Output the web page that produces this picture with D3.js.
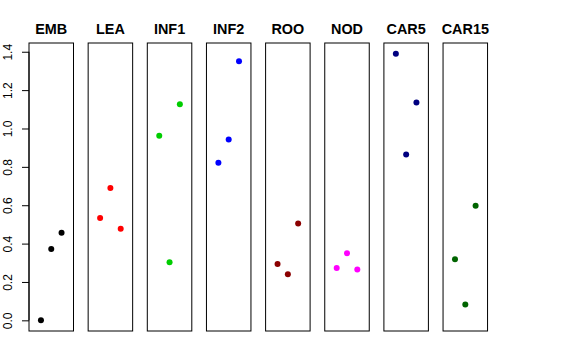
<!DOCTYPE html>
<html><head><meta charset="utf-8">
<script src="https://cdn.jsdelivr.net/npm/d3@7"></script>
<style>body{margin:0;background:#fff}svg{display:block}</style>
</head><body>
<script>
const categories = ["EMB","LEA","INF1","INF2","ROO","NOD","CAR5","CAR15"];
const colors = ["#000000","#FF0000","#00CD00","#0000FF","#8B0000","#FF00FF","#000080","#006400"];
const rep1 = [0.000, 0.534, 0.962, 0.821, 0.294, 0.273, 1.390, 0.318];
const rep2 = [0.372, 0.690, 0.303, 0.943, 0.240, 0.350, 0.865, 0.082];
const rep3 = [0.456, 0.477, 1.126, 1.350, 0.505, 0.265, 1.136, 0.597];
const yTicks = [0, 0.2, 0.4, 0.6, 0.8, 1.0, 1.2, 1.4];

const W = 576, H = 360;
const svg = d3.select("body").append("svg").attr("width", W).attr("height", H);
const plotTop = 43, plotBottom = 331;
const panelLeft = 29, panelW = 44.5, pitch = 59.15;

const y = d3.scaleLinear().domain([-0.0556, 1.4456]).range([plotBottom, plotTop]);

categories.forEach((cat, i) => {
  const x0 = panelLeft + i * pitch;
  const x = d3.scaleLinear().domain([-0.16, 4.16]).range([x0, x0 + panelW]);
  const g = svg.append("g");
  const vals = [rep1[i], rep2[i], rep3[i]];
  g.selectAll("circle").data(vals).enter().append("circle")
    .attr("cx", (d, j) => x(j + 1))
    .attr("cy", d => y(d))
    .attr("r", 3)
    .attr("fill", colors[i]);
  g.append("rect")
    .attr("x", x0).attr("y", plotTop)
    .attr("width", panelW).attr("height", plotBottom - plotTop)
    .attr("fill", "none").attr("stroke", "#000").attr("stroke-width", 1);
  g.append("text")
    .attr("x", x0 + panelW / 2).attr("y", 34)
    .attr("text-anchor", "middle")
    .attr("font-family", "Liberation Sans, Arial, sans-serif")
    .attr("font-weight", "bold").attr("font-size", 14.4)
    .text(cat);
  if (i === 0) {
    const axis = d3.axisLeft(y).tickValues(yTicks).tickSize(7).tickPadding(0)
      .tickFormat(d3.format(".1f"));
    const ag = svg.append("g").attr("transform", `translate(${x0},0)`).call(axis);
    ag.select(".domain").attr("stroke", "none");
    ag.append("path").attr("d", `M0,${y(0)}V${y(1.4)}`).attr("stroke", "#000");
    ag.selectAll(".tick text")
      .attr("font-family", "Liberation Sans, Arial, sans-serif")
      .attr("font-size", 12).attr("fill", "#000")
      .attr("text-anchor", "middle")
      .attr("x", null).attr("dy", null)
      .attr("transform", "translate(-17,0) rotate(-90)");
  }
});
</script>
</body></html>
